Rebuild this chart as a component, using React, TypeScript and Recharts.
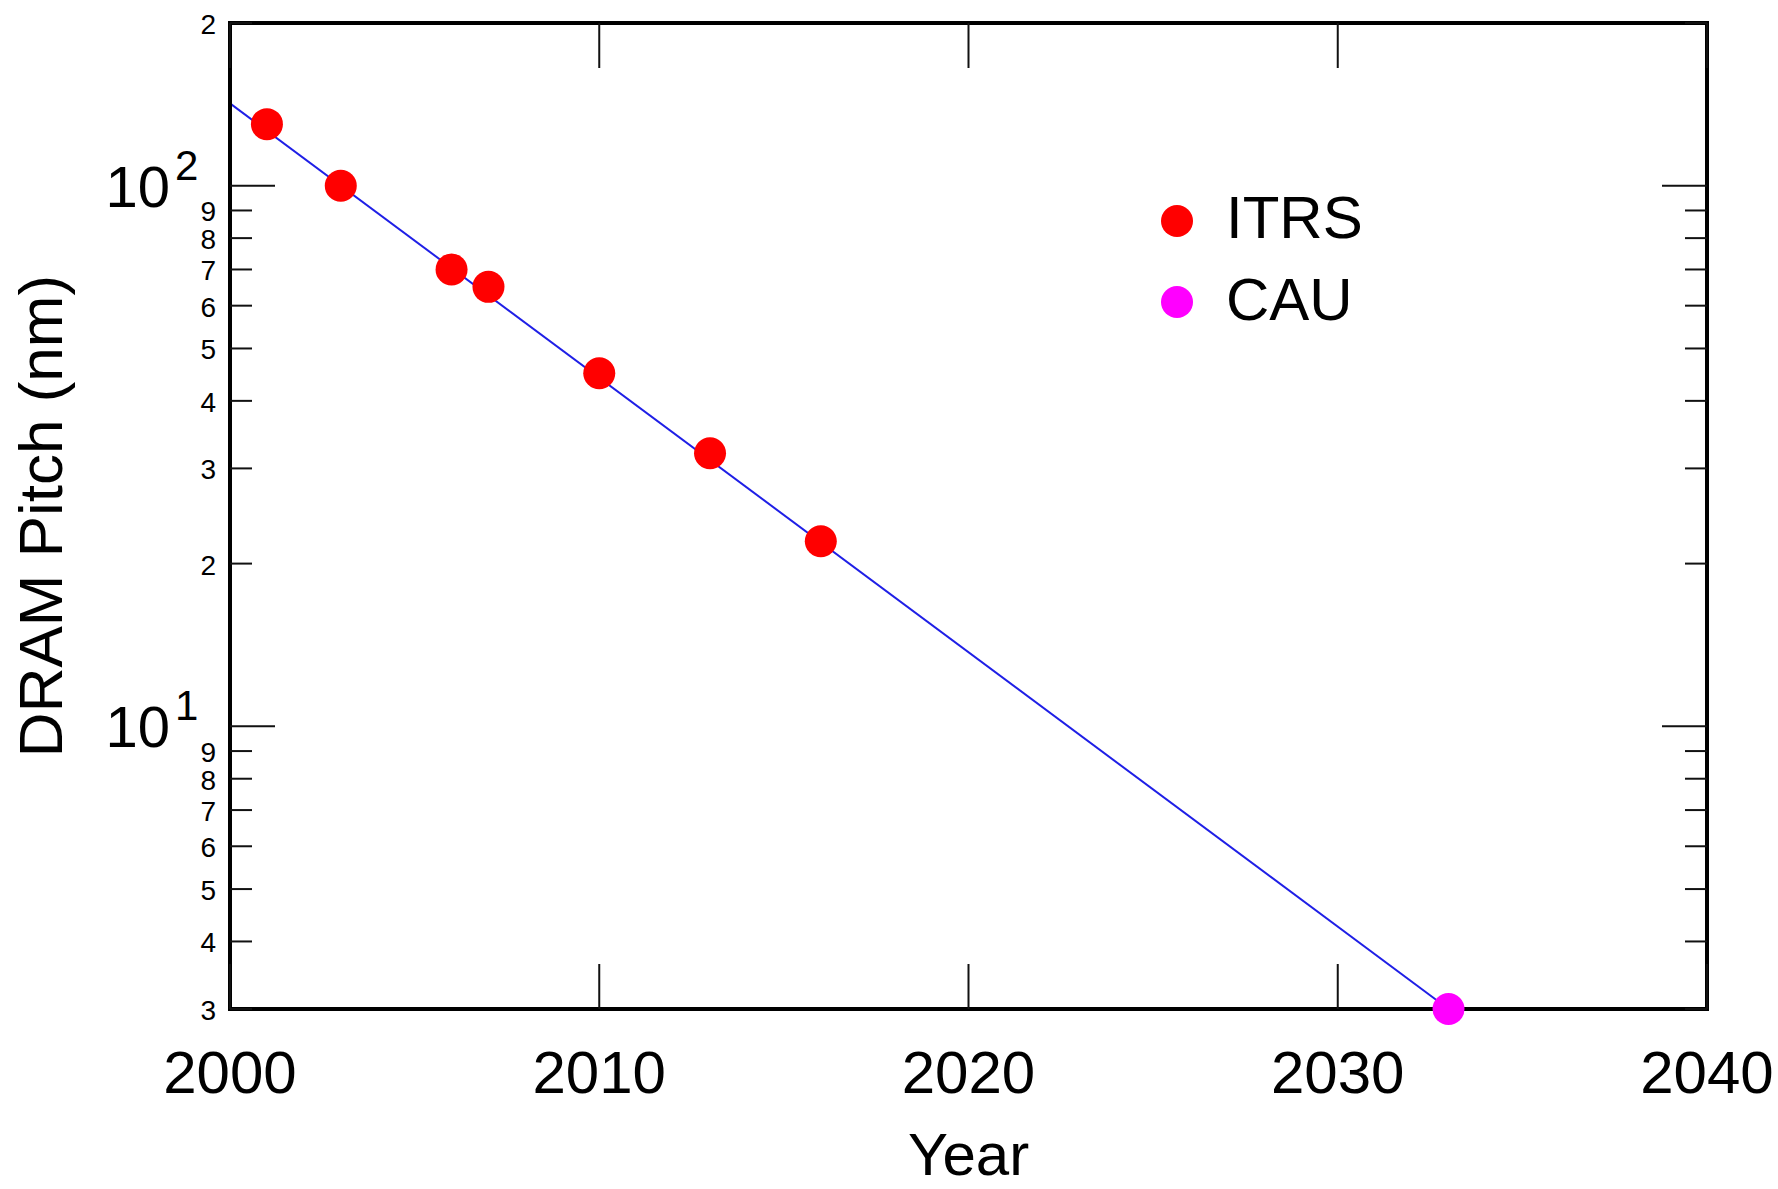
import React from 'react';
import { ComposedChart, Line, Scatter, XAxis, YAxis, Legend, Label } from 'recharts';

// ---- data ----
const itrsYears = [2001, 2003, 2006, 2007, 2010, 2013, 2016];
const itrsPitch = [130, 100, 70, 65, 45, 32, 22];
const cauYears = [2033];
const cauPitch = [3];
const fitYears = [2000, 2033];
const fitPitch = [142, 3];
const xTicks = [2000, 2010, 2020, 2030, 2040];
const yTicks = [3, 4, 5, 6, 7, 8, 9, 10, 20, 30, 40, 50, 60, 70, 80, 90, 100, 200];
const yMajor = [10, 100];
const legendOrder = ['ITRS', 'CAU'];

const itrsData = itrsYears.map((year, i) => ({ year, pitch: itrsPitch[i] }));
const cauData = cauYears.map((year, i) => ({ year, pitch: cauPitch[i] }));
const fitData = fitYears.map((year, i) => ({ year, pitch: fitPitch[i] }));

// ---- layout ----
const W = 1778;
const H = 1189;
const PLOT_LEFT = 230;
const PLOT_RIGHT = 1707;
const PLOT_TOP = 23;
const PLOT_BOTTOM = 1009;
const FONT = '"Liberation Sans", Arial, Helvetica, sans-serif';
const TICK_COLOR = '#111';
const BORDER = { stroke: '#000', strokeWidth: 4, strokeLinecap: 'square' as const };

const superscripts: Record<number, string> = { 10: '1', 100: '2' };

const LeftTick = (props: any) => {
  const { x, y, payload } = props;
  const v = payload.value as number;
  const major = yMajor.includes(v);
  const len = major ? 45 : 22;
  if (major) {
    return (
      <g>
        <line x1={x} x2={x + len} y1={y} y2={y} stroke={TICK_COLOR} strokeWidth={2} />
        <text x={x - 60} y={y + 21} textAnchor="end" fontSize={58} fontFamily={FONT} fill="#000">10</text>
        <text x={x - 55} y={y - 6} textAnchor="start" fontSize={42} fontFamily={FONT} fill="#000">{superscripts[v]}</text>
      </g>
    );
  }
  const mant = Math.round(v / Math.pow(10, Math.floor(Math.log10(v) + 1e-9)));
  return (
    <g>
      <line x1={x} x2={x + len} y1={y} y2={y} stroke={TICK_COLOR} strokeWidth={2} />
      <text x={x - 14} y={y + 11} textAnchor="end" fontSize={28} fontFamily={FONT} fill="#000">{mant}</text>
    </g>
  );
};

const RightTick = (props: any) => {
  const { x, y, payload } = props;
  const v = payload.value as number;
  const len = yMajor.includes(v) ? 45 : 22;
  return <line x1={x} x2={x - len} y1={y} y2={y} stroke={TICK_COLOR} strokeWidth={2} />;
};

const BottomTick = (props: any) => {
  const { x, y, payload } = props;
  return (
    <g>
      <line x1={x} x2={x} y1={y} y2={y - 45} stroke={TICK_COLOR} strokeWidth={2} />
      <text x={x} y={y + 84} textAnchor="middle" fontSize={60} fontFamily={FONT} fill="#000">{payload.value}</text>
    </g>
  );
};

const TopTick = (props: any) => {
  const { x, y } = props;
  return <line x1={x} x2={x} y1={y} y2={y + 45} stroke={TICK_COLOR} strokeWidth={2} />;
};

const YTitle = () => {
  const cx = 40;
  const cy = (PLOT_TOP + PLOT_BOTTOM) / 2;
  return (
    <text
      x={cx}
      y={cy}
      transform={`rotate(-90, ${cx}, ${cy})`}
      textAnchor="middle"
      dominantBaseline="central"
      fontSize={62}
      fontFamily={FONT}
      fill="#000"
    >
      DRAM Pitch (nm)
    </text>
  );
};

const XTitle = () => (
  <text
    x={(PLOT_LEFT + PLOT_RIGHT) / 2}
    y={1175}
    textAnchor="middle"
    fontSize={60}
    fontFamily={FONT}
    fill="#000"
  >
    Year
  </text>
);

const LegendContent = (props: any) => {
  const items = (props.payload || [])
    .filter((p: any) => legendOrder.includes(p.value))
    .sort((a: any, b: any) => legendOrder.indexOf(a.value) - legendOrder.indexOf(b.value));
  return (
    <svg width={280} height={170} style={{ display: 'block' }}>
      {items.map((it: any, i: number) => (
        <g key={i}>
          <circle cx={27} cy={41 + i * 81} r={16} fill={it.color} />
          <text x={76} y={58 + i * 82} fontSize={60} fontFamily={FONT} fill="#000">{it.value}</text>
        </g>
      ))}
    </svg>
  );
};

const Dot = (color: string) => (p: any) => (
  <circle cx={p.cx} cy={p.cy} r={16} fill={color} />
);

export default function App() {
  return (
    <div style={{ position: 'absolute', left: 0, top: 0, width: W, height: H, background: '#fff' }}>
      <ComposedChart
        width={W}
        height={H}
        margin={{ top: PLOT_TOP - 1, right: W - PLOT_RIGHT - 1, bottom: 0, left: 0 }}
      >
        <XAxis
          xAxisId="b"
          dataKey="year"
          type="number"
          domain={[2000, 2040]}
          ticks={xTicks}
          interval={0}
          orientation="bottom"
          height={H - PLOT_BOTTOM}
          tickSize={0}
          tickMargin={0}
          tickLine={false}
          tick={<BottomTick />}
          axisLine={BORDER}
        >
          <Label content={<XTitle />} />
        </XAxis>
        <XAxis
          xAxisId="t"
          dataKey="year"
          type="number"
          domain={[2000, 2040]}
          ticks={xTicks}
          interval={0}
          orientation="top"
          height={1}
          tickSize={0}
          tickMargin={0}
          tickLine={false}
          tick={<TopTick />}
          axisLine={BORDER}
        />
        <YAxis
          yAxisId="l"
          dataKey="pitch"
          type="number"
          scale="log"
          domain={[3, 200]}
          ticks={yTicks}
          interval={0}
          orientation="left"
          width={PLOT_LEFT}
          tickSize={0}
          tickMargin={0}
          tickLine={false}
          tick={<LeftTick />}
          axisLine={BORDER}
        >
          <Label content={<YTitle />} />
        </YAxis>
        <YAxis
          yAxisId="r"
          dataKey="pitch"
          type="number"
          scale="log"
          domain={[3, 200]}
          ticks={yTicks}
          interval={0}
          orientation="right"
          width={1}
          tickSize={0}
          tickMargin={0}
          tickLine={false}
          tick={<RightTick />}
          axisLine={BORDER}
        />
        <Legend
          layout="vertical"
          align="center"
          verticalAlign="middle"
          content={<LegendContent />}
          wrapperStyle={{ left: 1150, top: 180, width: 280, height: 170 }}
        />
        <Line
          xAxisId="t"
          yAxisId="r"
          data={fitData}
          dataKey="pitch"
          type="linear"
          stroke="none"
          strokeWidth={0}
          dot={false}
          activeDot={false}
          legendType="none"
          name="mirror"
          isAnimationActive={false}
        />
        <Line
          xAxisId="b"
          yAxisId="l"
          data={fitData}
          dataKey="pitch"
          type="linear"
          stroke="#1f1fe6"
          strokeWidth={2}
          dot={false}
          activeDot={false}
          legendType="none"
          name="fit"
          isAnimationActive={false}
        />
        <Scatter
          xAxisId="b"
          yAxisId="l"
          name="ITRS"
          data={itrsData}
          dataKey="pitch"
          fill="#ff0000"
          shape={Dot('#ff0000')}
          isAnimationActive={false}
        />
        <Scatter
          xAxisId="b"
          yAxisId="l"
          name="CAU"
          data={cauData}
          dataKey="pitch"
          fill="#ff00ff"
          shape={Dot('#ff00ff')}
          isAnimationActive={false}
        />
      </ComposedChart>
    </div>
  );
}
